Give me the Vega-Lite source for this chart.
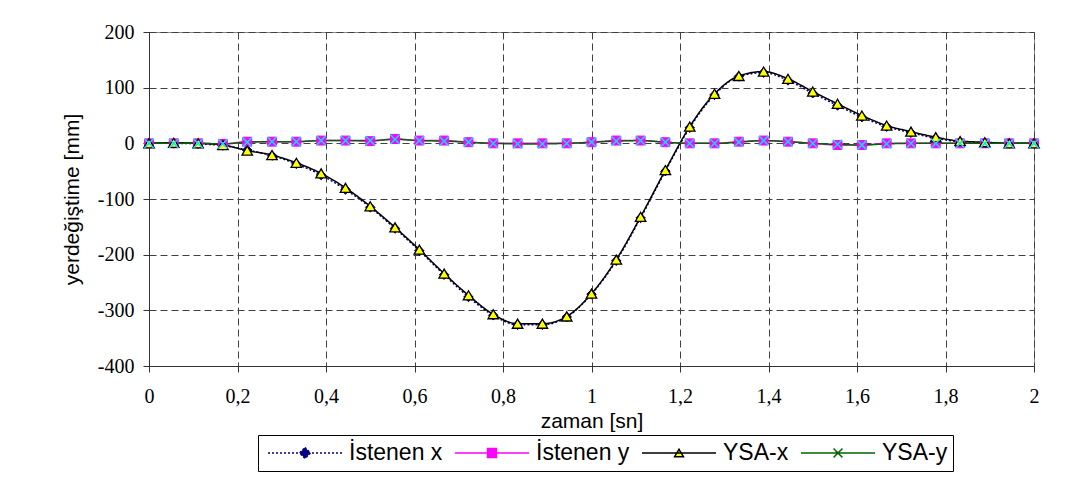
{
  "$schema": "https://vega.github.io/schema/vega-lite/v6.json",
  "width": 885,
  "height": 334,
  "autosize": {"type": "none"},
  "padding": {"left": 149, "top": 32, "right": 33, "bottom": 116},
  "background": "white",
  "config": {
    "view": {"stroke": "#888888", "strokeWidth": 1},
    "axis": {
      "labelFont": "Liberation Serif",
      "labelFontSize": 20,
      "labelColor": "black",
      "titleFont": "Liberation Sans",
      "titleFontSize": 21,
      "titleFontWeight": "normal",
      "titleColor": "black",
      "domainColor": "#333333",
      "tickColor": "#333333",
      "tickSize": 6,
      "gridColor": "#404040",
      "gridDash": [7, 4],
      "gridWidth": 1,
      "gridOpacity": 1
    }
  },
  "data": {
    "values": [
      {"t":0,"v":0,"s":"İstenen x"},{"t":0.056,"v":0,"s":"İstenen x"},{"t":0.111,"v":-1,"s":"İstenen x"},{"t":0.167,"v":-4,"s":"İstenen x"},{"t":0.222,"v":-12,"s":"İstenen x"},{"t":0.278,"v":-22,"s":"İstenen x"},{"t":0.333,"v":-37,"s":"İstenen x"},{"t":0.389,"v":-57,"s":"İstenen x"},{"t":0.444,"v":-83,"s":"İstenen x"},{"t":0.5,"v":-115,"s":"İstenen x"},{"t":0.556,"v":-153,"s":"İstenen x"},{"t":0.611,"v":-193,"s":"İstenen x"},{"t":0.667,"v":-236,"s":"İstenen x"},{"t":0.722,"v":-276,"s":"İstenen x"},{"t":0.778,"v":-309,"s":"İstenen x"},{"t":0.833,"v":-326,"s":"İstenen x"},{"t":0.889,"v":-326,"s":"İstenen x"},{"t":0.944,"v":-312,"s":"İstenen x"},{"t":1,"v":-271,"s":"İstenen x"},{"t":1.056,"v":-211,"s":"İstenen x"},{"t":1.111,"v":-134,"s":"İstenen x"},{"t":1.167,"v":-50,"s":"İstenen x"},{"t":1.222,"v":28,"s":"İstenen x"},{"t":1.278,"v":87,"s":"İstenen x"},{"t":1.333,"v":120,"s":"İstenen x"},{"t":1.389,"v":127,"s":"İstenen x"},{"t":1.444,"v":113,"s":"İstenen x"},{"t":1.5,"v":90,"s":"İstenen x"},{"t":1.556,"v":68,"s":"İstenen x"},{"t":1.611,"v":47,"s":"İstenen x"},{"t":1.667,"v":30,"s":"İstenen x"},{"t":1.722,"v":19,"s":"İstenen x"},{"t":1.778,"v":9,"s":"İstenen x"},{"t":1.833,"v":3,"s":"İstenen x"},{"t":1.889,"v":1,"s":"İstenen x"},{"t":1.944,"v":0,"s":"İstenen x"},{"t":2,"v":0,"s":"İstenen x"},
      {"t":0,"v":0,"s":"İstenen y"},{"t":0.056,"v":0,"s":"İstenen y"},{"t":0.111,"v":0,"s":"İstenen y"},{"t":0.167,"v":-1,"s":"İstenen y"},{"t":0.222,"v":3,"s":"İstenen y"},{"t":0.278,"v":3,"s":"İstenen y"},{"t":0.333,"v":3,"s":"İstenen y"},{"t":0.389,"v":5,"s":"İstenen y"},{"t":0.444,"v":5,"s":"İstenen y"},{"t":0.5,"v":4,"s":"İstenen y"},{"t":0.556,"v":8,"s":"İstenen y"},{"t":0.611,"v":5,"s":"İstenen y"},{"t":0.667,"v":5,"s":"İstenen y"},{"t":0.722,"v":2,"s":"İstenen y"},{"t":0.778,"v":0,"s":"İstenen y"},{"t":0.833,"v":0,"s":"İstenen y"},{"t":0.889,"v":0,"s":"İstenen y"},{"t":0.944,"v":0,"s":"İstenen y"},{"t":1,"v":2,"s":"İstenen y"},{"t":1.056,"v":5,"s":"İstenen y"},{"t":1.111,"v":5,"s":"İstenen y"},{"t":1.167,"v":2,"s":"İstenen y"},{"t":1.222,"v":0,"s":"İstenen y"},{"t":1.278,"v":0,"s":"İstenen y"},{"t":1.333,"v":3,"s":"İstenen y"},{"t":1.389,"v":5,"s":"İstenen y"},{"t":1.444,"v":3,"s":"İstenen y"},{"t":1.5,"v":0,"s":"İstenen y"},{"t":1.556,"v":-3,"s":"İstenen y"},{"t":1.611,"v":-3,"s":"İstenen y"},{"t":1.667,"v":0,"s":"İstenen y"},{"t":1.722,"v":0,"s":"İstenen y"},{"t":1.778,"v":0,"s":"İstenen y"},{"t":1.833,"v":0,"s":"İstenen y"},{"t":1.889,"v":0,"s":"İstenen y"},{"t":1.944,"v":0,"s":"İstenen y"},{"t":2,"v":0,"s":"İstenen y"},
      {"t":0,"v":0,"s":"YSA-x"},{"t":0.056,"v":1,"s":"YSA-x"},{"t":0.111,"v":0,"s":"YSA-x"},{"t":0.167,"v":-3,"s":"YSA-x"},{"t":0.222,"v":-13,"s":"YSA-x"},{"t":0.278,"v":-21,"s":"YSA-x"},{"t":0.333,"v":-35,"s":"YSA-x"},{"t":0.389,"v":-54,"s":"YSA-x"},{"t":0.444,"v":-80,"s":"YSA-x"},{"t":0.5,"v":-113,"s":"YSA-x"},{"t":0.556,"v":-151,"s":"YSA-x"},{"t":0.611,"v":-191,"s":"YSA-x"},{"t":0.667,"v":-234,"s":"YSA-x"},{"t":0.722,"v":-273,"s":"YSA-x"},{"t":0.778,"v":-307,"s":"YSA-x"},{"t":0.833,"v":-324,"s":"YSA-x"},{"t":0.889,"v":-324,"s":"YSA-x"},{"t":0.944,"v":-311,"s":"YSA-x"},{"t":1,"v":-270,"s":"YSA-x"},{"t":1.056,"v":-209,"s":"YSA-x"},{"t":1.111,"v":-132,"s":"YSA-x"},{"t":1.167,"v":-48,"s":"YSA-x"},{"t":1.222,"v":30,"s":"YSA-x"},{"t":1.278,"v":89,"s":"YSA-x"},{"t":1.333,"v":121,"s":"YSA-x"},{"t":1.389,"v":129,"s":"YSA-x"},{"t":1.444,"v":116,"s":"YSA-x"},{"t":1.5,"v":93,"s":"YSA-x"},{"t":1.556,"v":71,"s":"YSA-x"},{"t":1.611,"v":50,"s":"YSA-x"},{"t":1.667,"v":32,"s":"YSA-x"},{"t":1.722,"v":21,"s":"YSA-x"},{"t":1.778,"v":11,"s":"YSA-x"},{"t":1.833,"v":4,"s":"YSA-x"},{"t":1.889,"v":2,"s":"YSA-x"},{"t":1.944,"v":0,"s":"YSA-x"},{"t":2,"v":0,"s":"YSA-x"},
      {"t":0,"v":0,"s":"YSA-y"},{"t":0.056,"v":0,"s":"YSA-y"},{"t":0.111,"v":0,"s":"YSA-y"},{"t":0.167,"v":-1,"s":"YSA-y"},{"t":0.222,"v":2,"s":"YSA-y"},{"t":0.278,"v":3,"s":"YSA-y"},{"t":0.333,"v":3,"s":"YSA-y"},{"t":0.389,"v":5,"s":"YSA-y"},{"t":0.444,"v":5,"s":"YSA-y"},{"t":0.5,"v":5,"s":"YSA-y"},{"t":0.556,"v":7,"s":"YSA-y"},{"t":0.611,"v":5,"s":"YSA-y"},{"t":0.667,"v":4,"s":"YSA-y"},{"t":0.722,"v":2,"s":"YSA-y"},{"t":0.778,"v":0,"s":"YSA-y"},{"t":0.833,"v":-1,"s":"YSA-y"},{"t":0.889,"v":-1,"s":"YSA-y"},{"t":0.944,"v":0,"s":"YSA-y"},{"t":1,"v":2,"s":"YSA-y"},{"t":1.056,"v":4,"s":"YSA-y"},{"t":1.111,"v":5,"s":"YSA-y"},{"t":1.167,"v":2,"s":"YSA-y"},{"t":1.222,"v":0,"s":"YSA-y"},{"t":1.278,"v":0,"s":"YSA-y"},{"t":1.333,"v":2,"s":"YSA-y"},{"t":1.389,"v":5,"s":"YSA-y"},{"t":1.444,"v":3,"s":"YSA-y"},{"t":1.5,"v":0,"s":"YSA-y"},{"t":1.556,"v":-2,"s":"YSA-y"},{"t":1.611,"v":-3,"s":"YSA-y"},{"t":1.667,"v":-1,"s":"YSA-y"},{"t":1.722,"v":0,"s":"YSA-y"},{"t":1.778,"v":0,"s":"YSA-y"},{"t":1.833,"v":0,"s":"YSA-y"},{"t":1.889,"v":0,"s":"YSA-y"},{"t":1.944,"v":0,"s":"YSA-y"},{"t":2,"v":0,"s":"YSA-y"}
    ]
  },
  "encoding": {
    "x": {
      "field": "t",
      "type": "quantitative",
      "title": "zaman [sn]",
      "scale": {"domain": [0, 2], "nice": false, "zero": false},
      "axis": {
        "values": [0, 0.2, 0.4, 0.6, 0.8, 1, 1.2, 1.4, 1.6, 1.8, 2],
        "labelExpr": "replace(format(datum.value, '.1~f'), '.', ',')",
        "labelPadding": 14,
        "titlePadding": 4,
        "labelFlush": false
      }
    },
    "y": {
      "field": "v",
      "type": "quantitative",
      "title": "yerdeğiştime [mm]",
      "scale": {"domain": [-400, 200], "nice": false, "zero": false},
      "axis": {
        "values": [-400, -300, -200, -100, 0, 100, 200],
        "labelExpr": "'' + datum.value",
        "labelPadding": 9,
        "titlePadding": 15
      }
    }
  },
  "layer": [
    {
      "mark": {"type": "line", "interpolate": "monotone", "strokeWidth": 1.5},
      "encoding": {
        "color": {
          "field": "s",
          "type": "nominal",
          "scale": {
            "domain": ["İstenen x", "İstenen y", "YSA-x", "YSA-y"],
            "range": ["#000080", "#ff00ff", "#000000", "#006400"]
          },
          "legend": {
            "title": null,
            "orient": "none",
            "legendX": 109,
            "legendY": 403,
            "direction": "horizontal",
            "symbolSize": 5476,
            "symbolStrokeWidth": 1.5,
            "symbolOffset": 4,
            "clipHeight": 26,
            "labelFont": "Liberation Sans",
            "labelFontSize": 23,
            "labelColor": "black",
            "labelOffset": 6,
            "columnPadding": 7,
            "padding": 5,
            "strokeColor": "#000000",
            "fillColor": "white",
            "cornerRadius": 0,
            "encode": {
              "symbols": {
                "update": {
                  "shape": {"signal": "datum.value === 'İstenen x' ? 'M-1,0L1,0M0,-0.15L0.15,0L0,0.15L-0.15,0Z' : datum.value === 'İstenen y' ? 'M-1,0L1,0M-0.12,-0.12L0.12,-0.12L0.12,0.12L-0.12,0.12Z' : datum.value === 'YSA-x' ? 'M-1,0L1,0M0,-0.1L0.12,0.1L-0.12,0.1Z' : 'M-1,0L1,0M-0.12,-0.12L0.12,0.12M-0.12,0.12L0.12,-0.12'"},
                  "fill": {"signal": "datum.value === 'İstenen x' ? '#000080' : datum.value === 'İstenen y' ? '#ff00ff' : datum.value === 'YSA-x' ? '#ffff00' : 'transparent'"},
                  "strokeDash": {"signal": "datum.value === 'İstenen x' ? [3, 3] : [1, 0]"},
                  "opacity": {"value": 1}
                }
              }
            }
          }
        },
        "strokeDash": {
          "field": "s",
          "type": "nominal",
          "scale": {
            "domain": ["İstenen x", "İstenen y", "YSA-x", "YSA-y"],
            "range": [[2, 2], [1, 0], [1, 0], [1, 0]]
          },
          "legend": null
        }
      }
    },
    {
      "transform": [{"filter": {"field": "s", "equal": "İstenen x"}}],
      "mark": {"type": "point", "shape": "diamond", "size": 90, "filled": true, "fill": "#000080", "stroke": "#000080", "strokeWidth": 1, "opacity": 1}
    },
    {
      "transform": [{"filter": {"field": "s", "equal": "İstenen y"}}],
      "mark": {"type": "point", "shape": "square", "size": 80, "filled": true, "fill": "#ff00ff", "stroke": "#ff00ff", "strokeWidth": 1, "opacity": 1}
    },
    {
      "transform": [{"filter": {"field": "s", "equal": "YSA-x"}}],
      "mark": {"type": "point", "shape": "triangle-up", "size": 110, "filled": true, "fill": "#ffff00", "stroke": "#000000", "strokeWidth": 1.3, "opacity": 1}
    },
    {
      "transform": [{"filter": {"field": "s", "equal": "YSA-y"}}],
      "mark": {"type": "point", "shape": "M-1,-1L1,1M-1,1L1,-1", "size": 85, "filled": false, "fill": "transparent", "stroke": "#00e5ff", "strokeWidth": 1.5, "opacity": 1}
    }
  ]
}
